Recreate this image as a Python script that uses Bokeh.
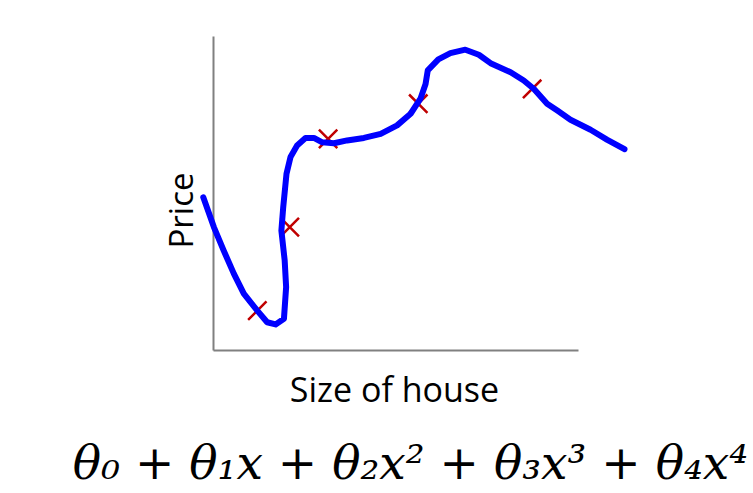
from bokeh.plotting import figure
from bokeh.models import Range1d, Label
from bokeh.embed import file_html
from bokeh.resources import INLINE

# ---- data (size of house vs price, arbitrary units 0..100 on each axis) ----
curve_size = [-2.8, 0.1, 2.8, 5.6, 8.3, 12.0, 14.7, 17.0, 19.3, 19.9, 19.5, 18.6, 19.1,
              20.0, 21.1, 22.9, 25.2, 27.5, 29.8, 33.0, 36.6, 41.2, 45.8, 50.3, 54.0,
              56.7, 58.1, 58.7, 61.6, 64.9, 69.0, 72.7, 75.9, 81.4, 85.0, 87.8, 91.4,
              94.2, 97.8, 103.3, 107.9, 112.6]
curve_price = [48.8, 39.3, 31.8, 24.4, 18.1, 12.7, 9.0, 8.3, 10.1, 20.2, 28.7, 38.2, 45.6,
               56.3, 61.6, 65.3, 67.7, 67.7, 66.3, 66.0, 66.9, 67.7, 69.0, 71.7, 75.4,
               80.2, 84.9, 89.2, 92.7, 94.7, 95.8, 94.2, 91.5, 88.6, 86.0, 83.3, 78.6,
               76.4, 73.5, 70.3, 67.1, 64.1]
point_size = [12.0, 20.9, 31.4, 56.1, 87.3]
point_price = [12.7, 39.3, 67.4, 78.6, 83.3]

x_label = "Size of house"
y_label = "Price"
formula = "θ₀ + θ₁x + θ₂x² + θ₃x³ + θ₄x⁴"

# ---- layout ----
W, H = 753, 493
AX_X0, AX_Y0 = 213, 350          # canvas px of axis origin (from top-left)
PX_PER_X, PX_PER_Y = 3.65, 3.14  # px per data unit
AX_XMAX, AX_YMAX = 100, 100

x_range = Range1d(-AX_X0 / PX_PER_X, (W - AX_X0) / PX_PER_X)
y_range = Range1d(-(H - AX_Y0) / PX_PER_Y, AX_Y0 / PX_PER_Y)

p = figure(width=W, height=H, x_range=x_range, y_range=y_range,
           toolbar_location=None, output_backend="svg", min_border=0)
p.axis.visible = False
p.grid.visible = False
p.outline_line_color = None
p.background_fill_color = "white"
p.border_fill_color = "white"

# axis lines
p.line([0, 0], [0, AX_YMAX], line_color="#808080", line_width=2)
p.line([0, AX_XMAX], [0, 0], line_color="#808080", line_width=2)

p.scatter(point_size, point_price, marker="x", size=26,
          line_color="#c00000", line_width=2.5)
p.line(curve_size, curve_price, line_color="#0000ff", line_width=6,
       line_join="round", line_cap="round")

p.add_layout(Label(x=180, y=H - 210, x_units="screen", y_units="screen",
                   text=y_label, angle=1.5708, text_align="center",
                   text_baseline="middle", text_font="Open Sans",
                   text_font_size="33px", text_color="black"))
p.add_layout(Label(x=394, y=H - 388, x_units="screen", y_units="screen",
                   text=x_label, text_align="center", text_baseline="middle",
                   text_font="Open Sans", text_font_size="34px", text_color="black"))
p.add_layout(Label(x=410, y=H - 462, x_units="screen", y_units="screen",
                   text=formula, text_align="center", text_baseline="middle",
                   text_font="DejaVu Serif", text_font_style="italic",
                   text_font_size="47px", text_color="black"))

open("out.html", "w").write(file_html(p, INLINE))
